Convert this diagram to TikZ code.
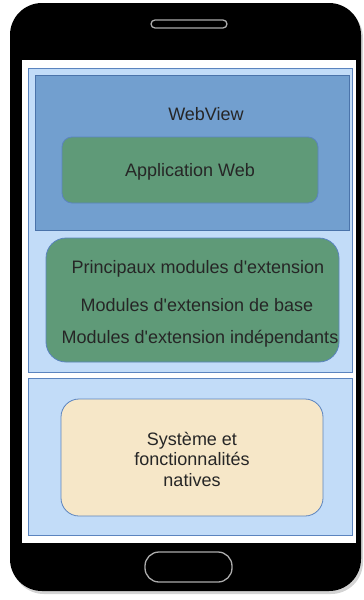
\documentclass[tikz,border=0pt]{standalone}
\usepackage{fontspec}
\setmainfont{Liberation Sans}
\usepackage{xcolor}
\usetikzlibrary{positioning, shadows}

\definecolor{paneblue}{HTML}{C2DCF8}
\definecolor{paneline}{HTML}{5B84BF}
\definecolor{viewblue}{HTML}{729FCF}
\definecolor{viewline}{HTML}{4A73AA}
\definecolor{modgreen}{HTML}{5F9A78}
\definecolor{nativebeige}{HTML}{F6E7C8}

\begin{document}
\begin{tikzpicture}[
    x=1pt, y=-1pt,
    font=\fontsize{18}{21}\selectfont,
    text=black!85,
    layerbox/.style={
        rectangle,
        draw=paneline,
        line width=0.8pt,
        fill=paneblue,
        inner sep=0pt
    },
    roundbox/.style={
        rectangle,
        draw=paneline,
        line width=0.8pt,
        rounded corners=10pt,
        align=center,
        inner sep=0pt
    },
    buttonbox/.style={
        rectangle,
        draw=gray!65,
        line width=1.3pt,
        fill=black,
        inner sep=0pt
    }
]
    \useasboundingbox (0,0) rectangle (364,600);

    % Phone body
    \node[rectangle, fill=black, rounded corners=32pt, minimum width=351pt, minimum height=588pt,
          drop shadow={shadow xshift=2pt, shadow yshift=-3pt, opacity=0.35}] (phone) at (185.5,297) {};
    \node[rectangle, fill=white, minimum width=334pt, minimum height=483pt, inner sep=0pt] (screen) at (189,301.5) {};
    \node[buttonbox, rounded corners=4pt, minimum width=76pt, minimum height=8pt] (speaker) at (189,24) {};
    \node[buttonbox, rounded corners=14pt, minimum width=87pt, minimum height=30pt] (home) at (188.5,567) {};

    % Upper layer
    \node[layerbox, minimum width=324pt, minimum height=304pt] (upper) at (190,220) {};
    \node[layerbox, fill=viewblue, draw=viewline, minimum width=314pt, minimum height=155pt] (webview) at (192,152.5) {};
    \node (webviewlabel) at (206,114) {WebView};
    \node[roundbox, fill=modgreen, minimum width=256pt, minimum height=66pt] (appweb) at (190,170) {};
    \node (appweblabel) at (190,172) {Application Web};

    % Plug-ins
    \node[roundbox, fill=modgreen, rounded corners=20pt, minimum width=293pt, minimum height=124pt] (plugins) at (192.5,300) {};
    \node (mainplugins) at (198,269) {Principaux modules d\textquotesingle extension};
    \node (baseplugins) at (197,305) {Modules d\textquotesingle extension de base};
    \node (freeplugins) at (200,339) {Modules d\textquotesingle extension indépendants};

    % Lower layer
    \node[layerbox, minimum width=324pt, minimum height=157pt] (lower) at (190,456.5) {};
    \node[roundbox, fill=nativebeige, rounded corners=18pt, minimum width=262pt, minimum height=117pt] (native) at (192,457.5) {};
    \node[align=center, font=\fontsize{18}{20.5}\selectfont] (nativelabel) at (192,459) {Système et\\fonctionnalités\\natives};
\end{tikzpicture}
\end{document}
